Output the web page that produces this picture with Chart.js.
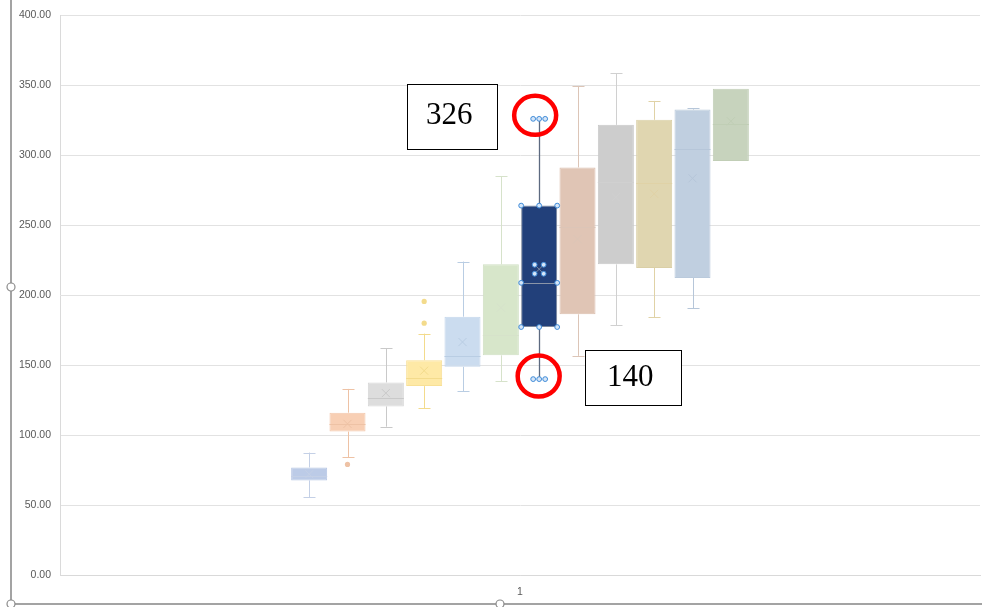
<!DOCTYPE html>
<html>
<head>
<meta charset="utf-8">
<script src="https://cdn.jsdelivr.net/npm/chart.js@4.4.1/dist/chart.umd.min.js"></script>
<style>
  html, body { margin: 0; padding: 0; background: #fff; }
  #wrap { width: 982px; height: 607px; position: relative; }
</style>
</head>
<body>
<div id="wrap"><canvas id="boxChart" width="982" height="607"></canvas></div>
<script>
// Box plot values, one entry per box (left to right)
const categories  = ['1'];
const whiskerLow  = [55.5, 84, 106, 119, 131.4, 138.5, 140, 156.6, 178.4, 184.3, 190.5, 295.9];
const quartile1   = [67.6, 102.5, 120.5, 135, 148.8, 157, 177.2, 186.3, 222, 219.4, 212.3, 295.9];
const medians     = [71, 108, 126.7, 140.7, 156.4, 171.5, 208.8, 248.6, 280.6, 280.4, 304.6, 322];
const quartile3   = [76.9, 116, 137.6, 153.5, 184.6, 222, 264, 291.3, 321.7, 325.3, 332.6, 347.5];
const whiskerHigh = [87.5, 133, 162, 172.5, 224, 285, 326, 349.2, 358.5, 338.8, 333.6, 347.5];
const means       = [72, 108, 130, 146, 166.5, 191, 218.5, 240, 270, 272.4, 283.5, 324.3];
const outliers    = [[], [79], [], [180, 195.5], [], [], [], [], [], [], [], []];
const yTicks      = [0, 50, 100, 150, 200, 250, 300, 350, 400];

const selected = 6; // the highlighted box

// Colours
const boxFill  = ['#bccbe7', '#f8cfb4', '#dddddd', '#fee9a6', '#cbdcef', '#d7e6ca',
                  '#22407a', '#e0c5b5', '#cdcdcd', '#e0d6b0', '#c0cfe0', '#c7d3bd'];
const boxLine  = ['#b6c6e4', '#f3c8ac', '#d6d6d6', '#f8e096', '#c4d6eb', '#d0e0c3',
                  '#7c889c', '#dbbeae', '#c8c8c8', '#dacfa6', '#bacadc', '#c1ceb6'];
const markColor = ['#c4d0e6', '#eec2a5', '#c9c9c9', '#f3db8c', '#b9cde3', '#d6e2ca',
                   '#5d6a80', '#dcc5b7', '#d0d0d0', '#e0d2a6', '#b6c6d9', '#c0ceb5'];

const datasets = boxFill.map((c, i) => ({
    label: 'Box ' + (i + 1),
    data: [[quartile1[i], quartile3[i]]],
    backgroundColor: c,
    borderColor: boxLine[i],
    borderWidth: 1,
    borderSkipped: false,
    barPercentage: 0.94,
    categoryPercentage: 0.5
}));

function handle(ctx, x, y) {
    ctx.beginPath();
    ctx.arc(x, y, 2.4, 0, Math.PI * 2);
    ctx.fillStyle = '#d6e6f8';
    ctx.fill();
    ctx.lineWidth = 1;
    ctx.strokeStyle = '#3d8ad8';
    ctx.stroke();
}

// whiskers, medians, means and outliers
const boxParts = {
    id: 'boxParts',
    beforeDatasetsDraw(chart) {
        const ctx = chart.ctx;
        const ys = chart.scales.y;
        ctx.save();
        datasets.forEach((d, i) => {
            const bar = chart.getDatasetMeta(i).data[0];
            const x = Math.round(bar.x) + 0.5;
            const yHi = ys.getPixelForValue(whiskerHigh[i]);
            const yQ3 = ys.getPixelForValue(quartile3[i]);
            const yQ1 = ys.getPixelForValue(quartile1[i]);
            const yLo = ys.getPixelForValue(whiskerLow[i]);
            ctx.strokeStyle = markColor[i];
            ctx.lineWidth = i === selected ? 1.3 : 1;
            ctx.beginPath();
            ctx.moveTo(x, yHi); ctx.lineTo(x, yQ3);
            ctx.moveTo(x, yQ1); ctx.lineTo(x, yLo);
            if (i !== selected) {
                if (whiskerHigh[i] > quartile3[i]) {
                    ctx.moveTo(x - 6, Math.round(yHi) + 0.5); ctx.lineTo(x + 6, Math.round(yHi) + 0.5);
                }
                if (whiskerLow[i] < quartile1[i]) {
                    ctx.moveTo(x - 6, Math.round(yLo) + 0.5); ctx.lineTo(x + 6, Math.round(yLo) + 0.5);
                }
            }
            ctx.stroke();
        });
        ctx.restore();
    },
    afterDatasetsDraw(chart) {
        const ctx = chart.ctx;
        const ys = chart.scales.y;
        ctx.save();
        datasets.forEach((d, i) => {
            const bar = chart.getDatasetMeta(i).data[0];
            const x = bar.x;
            const half = bar.width / 2;
            const yMed = Math.round(ys.getPixelForValue(medians[i])) + 0.5;
            const yMean = ys.getPixelForValue(means[i]);
            ctx.strokeStyle = i === selected ? '#8a95a8' : markColor[i];
            ctx.lineWidth = 1;
            ctx.beginPath();
            ctx.moveTo(x - half, yMed); ctx.lineTo(x + half, yMed);
            ctx.stroke();
            // mean marker
            const m = 4;
            ctx.strokeStyle = i === selected ? '#7d8aa0' : markColor[i];
            ctx.beginPath();
            ctx.moveTo(x - m, yMean - m); ctx.lineTo(x + m, yMean + m);
            ctx.moveTo(x + m, yMean - m); ctx.lineTo(x - m, yMean + m);
            ctx.stroke();
            // outliers
            outliers[i].forEach(v => {
                ctx.beginPath();
                ctx.arc(x, ys.getPixelForValue(v), 2.6, 0, Math.PI * 2);
                ctx.fillStyle = markColor[i];
                ctx.fill();
            });
        });

        // selection handles on the highlighted box
        const bar = chart.getDatasetMeta(selected).data[0];
        const x = bar.x, half = bar.width / 2;
        const yHi = ys.getPixelForValue(whiskerHigh[selected]);
        const yQ3 = ys.getPixelForValue(quartile3[selected]);
        const yMed = ys.getPixelForValue(medians[selected]);
        const yQ1 = ys.getPixelForValue(quartile1[selected]);
        const yLo = ys.getPixelForValue(whiskerLow[selected]);
        const yMean = ys.getPixelForValue(means[selected]);
        [yQ3, yQ1].forEach(y => { handle(ctx, x - half, y); handle(ctx, x, y); handle(ctx, x + half, y); });
        handle(ctx, x - half, yMed); handle(ctx, x + half, yMed);
        [yHi, yLo].forEach(y => { handle(ctx, x - 6, y); handle(ctx, x, y); handle(ctx, x + 6, y); });
        [[-4.5, -4.5], [4.5, -4.5], [-4.5, 4.5], [4.5, 4.5]].forEach(p => handle(ctx, x + p[0], yMean + p[1]));
        ctx.restore();
    }
};

// chart frame, callout boxes and rings
const overlay = {
    id: 'overlay',
    beforeDraw(chart) {
        const ctx = chart.ctx;
        ctx.save();
        ctx.fillStyle = '#ffffff';
        ctx.fillRect(0, 0, chart.width, chart.height);
        ctx.restore();
    },
    afterDraw(chart) {
        const ctx = chart.ctx;
        const ys = chart.scales.y;
        ctx.save();

        // outer frame of the chart object
        ctx.strokeStyle = '#a3a3a3';
        ctx.lineWidth = 2;
        ctx.beginPath();
        ctx.moveTo(11, 0); ctx.lineTo(11, 604); ctx.lineTo(chart.width, 604);
        ctx.stroke();
        [[11, 287], [500, 604], [11, 604]].forEach(p => {
            ctx.beginPath();
            ctx.arc(p[0], p[1], 4, 0, Math.PI * 2);
            ctx.fillStyle = '#ffffff';
            ctx.fill();
            ctx.lineWidth = 1.2;
            ctx.strokeStyle = '#8c8c8c';
            ctx.stroke();
        });

        const bar = chart.getDatasetMeta(selected).data[0];
        const x = bar.x;
        const yHi = ys.getPixelForValue(whiskerHigh[selected]);
        const yLo = ys.getPixelForValue(whiskerLow[selected]);

        // red rings round the whisker ends
        ctx.strokeStyle = '#ff0000';
        ctx.lineWidth = 4.5;
        ctx.beginPath();
        ctx.ellipse(x - 4, yHi - 3.5, 21, 19.5, 0, 0, Math.PI * 2);
        ctx.stroke();
        ctx.beginPath();
        ctx.ellipse(x - 0.5, yLo - 3, 21, 20.5, 0, 0, Math.PI * 2);
        ctx.stroke();

        // value callouts
        const callouts = [
            { text: String(whiskerHigh[selected]), left: x - 132, top: yHi - 35, w: 90, h: 65 },
            { text: String(whiskerLow[selected]), left: x + 46, top: yLo - 29, w: 96, h: 55 }
        ];
        callouts.forEach(c => {
            ctx.fillStyle = '#ffffff';
            ctx.fillRect(c.left, c.top, c.w, c.h);
            ctx.strokeStyle = '#000000';
            ctx.lineWidth = 1;
            ctx.strokeRect(Math.round(c.left) + 0.5, Math.round(c.top) + 0.5, c.w, c.h);
            ctx.fillStyle = '#000000';
            ctx.font = '31px "Liberation Serif", "DejaVu Serif", serif';
            ctx.textAlign = 'center';
            ctx.textBaseline = 'middle';
            ctx.fillText(c.text, c.left + c.w / 2 - 3, c.top + c.h / 2);
        });
        ctx.restore();
    }
};

const tickFont = { family: '"Liberation Sans", Arial, sans-serif', size: 10.5 };

new Chart(document.getElementById('boxChart'), {
    type: 'bar',
    data: { labels: categories, datasets: datasets },
    options: {
        responsive: false,
        animation: false,
        layout: { padding: { top: 11, right: 2, left: 0, bottom: 0 } },
        plugins: { legend: { display: false }, tooltip: { enabled: false } },
        scales: {
            x: {
                grid: { display: false },
                border: { color: '#d9d9d9', width: 1 },
                ticks: { color: '#595959', font: tickFont, padding: 3 },
                afterFit: s => { s.height = 32; }
            },
            y: {
                min: 0,
                max: 400,
                afterBuildTicks: s => { s.ticks = yTicks.map(v => ({ value: v })); },
                grid: { color: '#e2e2e2', drawTicks: false },
                border: { color: '#dadada', width: 1 },
                ticks: {
                    color: '#595959',
                    font: tickFont,
                    padding: 9,
                    callback: v => Number(v).toFixed(2)
                },
                afterFit: s => { s.width = 60; }
            }
        }
    },
    plugins: [boxParts, overlay]
});
</script>
</body>
</html>
